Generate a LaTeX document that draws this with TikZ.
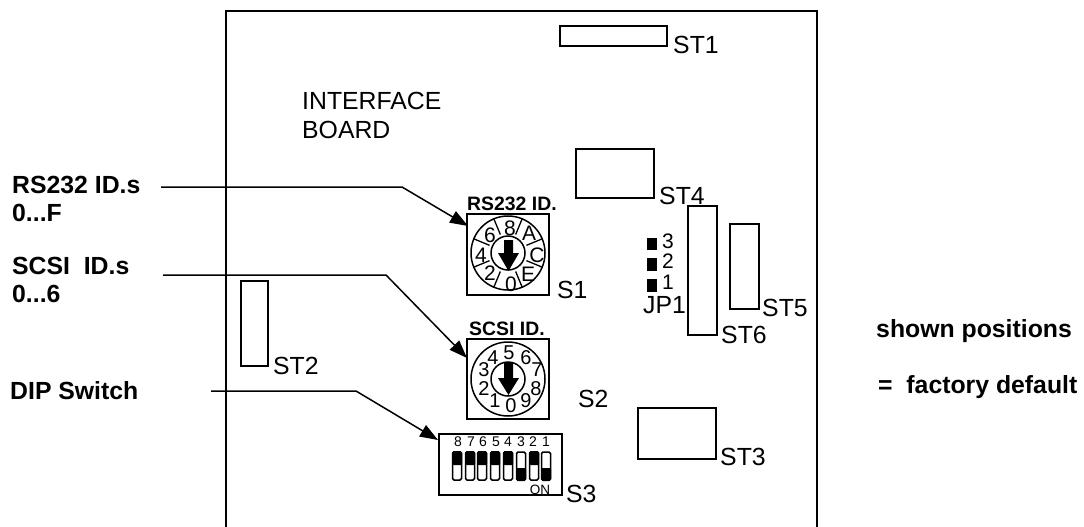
\documentclass[tikz,border=0pt]{standalone}
\usepackage{fontspec}
\setmainfont{Liberation Sans}
\usetikzlibrary{arrows.meta}
\tikzset{
 x=1pt,y=-1pt,
 box/.style={draw,line width=1.7pt,line join=miter},
 conn/.style={draw,line width=1.5pt},
 lead/.style={conn,-{Triangle[length=18pt,width=13pt]}},
 txt/.style={inner sep=0pt,anchor=base west,font=\fontsize{24.8}{28}\selectfont},
 jptxt/.style={inner sep=0pt,anchor=base west,font=\fontsize{21}{21}\selectfont},
 bold/.style={inner sep=0pt,anchor=base west,font=\fontsize{24.8}{28}\selectfont\bfseries},
 smallbold/.style={inner sep=0pt,anchor=base west,font=\fontsize{19.4}{22}\selectfont\bfseries},
 dial/.style={inner sep=0pt,anchor=center,font=\fontsize{21}{22}\selectfont},
 dialb/.style={inner sep=0pt,anchor=center,font=\fontsize{20}{20}\selectfont},
 dipn/.style={inner sep=0pt,anchor=center,font=\fontsize{14}{15}\selectfont},
 ring/.style={draw,line width=1.5pt},
 swbody/.style={draw,line width=1.5pt,fill=white},
}
\begin{document}
\begin{tikzpicture}
\useasboundingbox (0,0) rectangle (1084,527);
% board
\draw[box,line width=2pt] (226,527) -- (226,11) -- (817,11) -- (817,527);
\node[txt] (tboard1) at (302,110) {INTERFACE};
\node[txt] (tboard2) at (302,138) {BOARD};
% connectors
\draw[box] (560,26) rectangle (667,46);
\node[txt] (st1) at (673,53) {ST1};
\draw[box] (576,149) rectangle (654,198);
\node[txt] (st4) at (659,204) {ST4};
\draw[box] (688,206) rectangle (717,335);
\node[txt] (st6) at (721,343) {ST6};
\draw[box] (730,224) rectangle (759,309);
\node[txt] (st5) at (762,316) {ST5};
\draw[box] (241,281) rectangle (268,366);
\node[txt] (st2) at (273,374) {ST2};
\draw[box] (638,408) rectangle (716,459);
\node[txt] (st3) at (720,465) {ST3};
% JP1
\fill (647,238) rectangle (657,250);
\fill (647,258) rectangle (657,271);
\fill (647,279) rectangle (657,292);
\node[jptxt] (j3) at (662,248) {3};
\node[jptxt] (j2) at (662,268) {2};
\node[jptxt] (j1) at (662,289) {1};
\node[txt] (jp1) at (643,313) {JP1};
% S1
\node[smallbold] (s1t) at (467,210) {RS232 ID.};
\draw[box] (467,214) rectangle (549,295);
\draw[ring] (508,253) circle (37);
\draw[ring] (508,253) circle (17);
\foreach \a in {112.5,67.5,22.5,-22.5,-67.5,-112.5,-157.5,157.5}{
 \draw[line width=1.3pt] (508,253) ++({20*cos(\a)},{-20*sin(\a)}) -- ++({17*cos(\a)},{-17*sin(\a)});
}
\node[dial] at (510,228) {8};
\node[dial] at (490,235) {6};
\node[dial] at (481,255) {4};
\node[dial] at (490,273) {2};
\node[dial] at (511,284) {0};
\node[dial] at (528,274) {E};
\node[dial] at (537,255) {C};
\node[dial] at (529,233) {A};
\fill (504,240) rectangle (513,253) (498,253) -- (519,253) -- (508.5,271) -- cycle;
\node[txt] (s1) at (557,298) {S1};
% S2
\node[smallbold] (s2t) at (469,335) {SCSI ID.};
\draw[box] (467,339) rectangle (549,419);
\draw[ring] (508,379) circle (37);
\draw[ring] (508,379) circle (17);
\node[dialb] at (509,353) {5};
\node[dialb] at (493,358) {4};
\node[dialb] at (484,370) {3};
\node[dialb] at (484,389) {2};
\node[dialb] at (495,401) {1};
\node[dialb] at (511,406) {0};
\node[dialb] at (526,401) {9};
\node[dialb] at (536,389) {8};
\node[dialb] at (537,370) {7};
\node[dialb] at (526,358) {6};
\fill (504,363) rectangle (513,378) (498,378) -- (519,378) -- (508.5,395) -- cycle;
\node[txt] (s2) at (578,407) {S2};
% S3
\draw[box] (439,434) rectangle (562,495);
\foreach \n/\x in {8/458,7/471,6/483,5/496,4/508,3/521,2/533,1/546}{
 \node[dipn] at (\x,442) {\n};
}
\foreach \x in {457,470,482,495,508,534}{
 \draw[swbody,rounded corners=1.5pt] (\x-4.5,452) rectangle (\x+4.5,480);
 \fill[rounded corners=1.5pt] (\x-5,451) -- (\x-5,465) -- (\x+5,465) -- (\x+5,451) -- cycle;
}
\foreach \x in {521,546}{
 \draw[swbody,rounded corners=1.5pt] (\x-4.5,452) rectangle (\x+4.5,480);
 \fill[rounded corners=1.5pt] (\x-5,468) -- (\x-5,481) -- (\x+5,481) -- (\x+5,468) -- cycle;
}
\node[inner sep=0pt,anchor=center,font=\fontsize{13.5}{15}\selectfont] at (540,490) {ON};
\node[txt] (s3) at (566,502) {S3};
% left labels
\node[bold] (l1a) at (12,193) {RS232 ID.s};
\node[bold] (l1b) at (12,221) {0...F};
\node[bold] (l2a) at (12,274) {SCSI\ \ ID.s};
\node[bold] (l2b) at (12,302) {0...6};
\node[bold] (l3) at (10,399) {DIP Switch};
\coordinate (a1) at (161,187);
\coordinate (a1m) at (402,187);
\coordinate (a1e) at (468,226);
\coordinate (a2) at (163,275);
\coordinate (a2m) at (386,275);
\coordinate (a2e) at (467,358);
\coordinate (a3) at (211,391);
\coordinate (a3m) at (356,391);
\coordinate (a3e) at (438,440);
\draw[lead] (a1) -- (a1m) -- (a1e);
\draw[lead] (a2) -- (a2m) -- (a2e);
\draw[lead] (a3) -- (a3m) -- (a3e);
% right
\node[bold] (r1) at (876,337) {shown positions};
\node[bold] (r2) at (878,393) {=\ \ factory default};
\end{tikzpicture}
\end{document}
